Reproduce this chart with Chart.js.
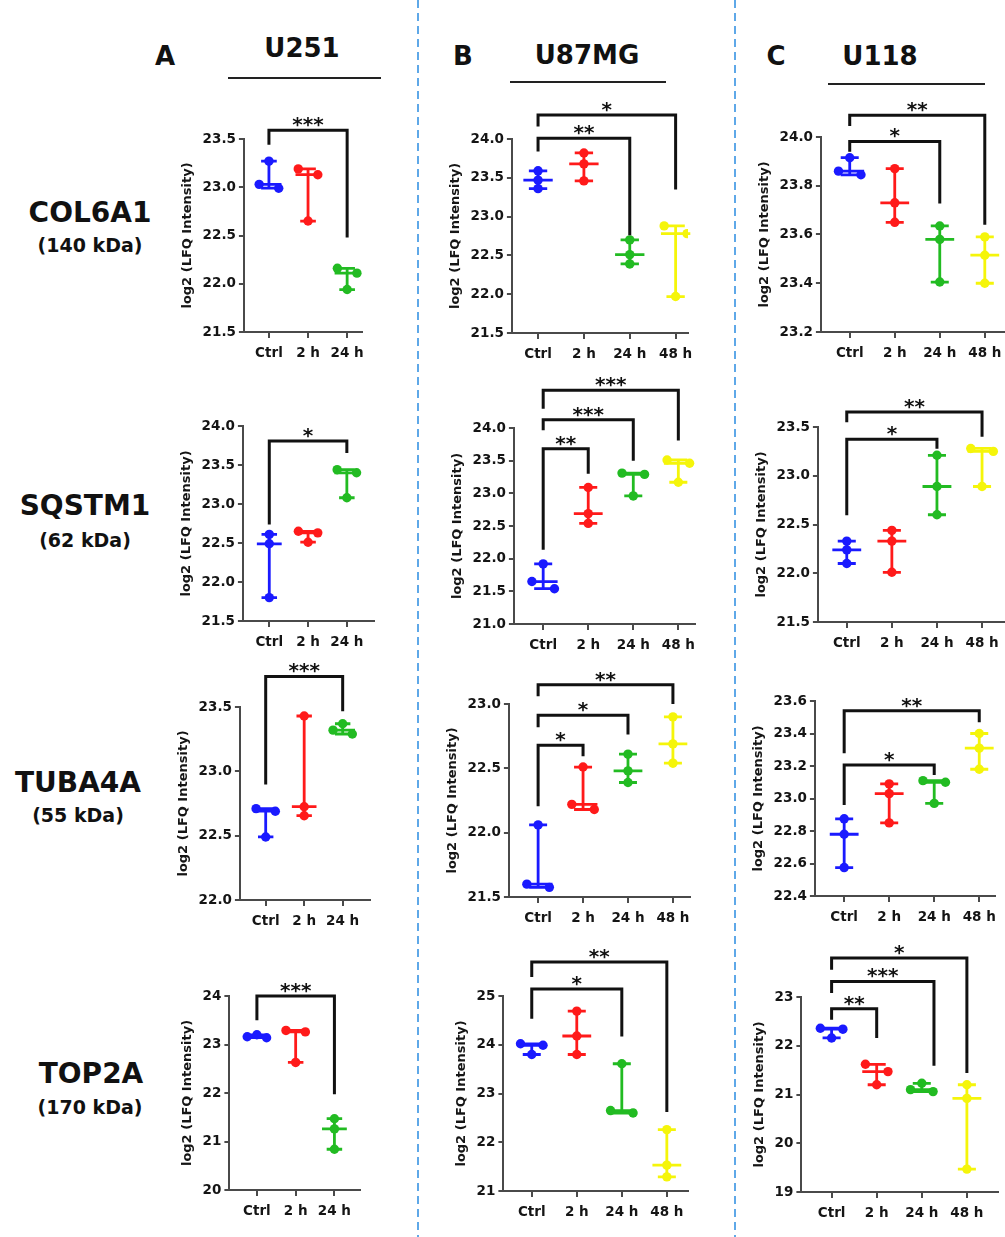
<!DOCTYPE html>
<html>
<head>
<meta charset="utf-8">
<script src="https://cdn.jsdelivr.net/npm/chart.js@4.4.0/dist/chart.umd.min.js"></script>
<style>
  html, body { margin: 0; padding: 0; background: #fff; }
  body { width: 1005px; height: 1237px; position: relative; overflow: hidden;
         font-family: 'DejaVu Sans', sans-serif; font-weight: bold; color: #111; }
  .lbl { position: absolute; transform: translate(-50%, -50%); white-space: nowrap; }
  .rule { position: absolute; height: 2px; background: #222; }
  .dash { position: absolute; top: 0; width: 2px; height: 1237px;
          background: repeating-linear-gradient(to bottom, #5ea8e8 0 8px, transparent 8px 13px); }
  .panel { position: absolute; }
</style>
</head>
<body>
<div class="dash" style="left:417px"></div>
<div class="dash" style="left:734px"></div>

<div class="lbl" style="left:165px;top:56px;font-size:26px">A</div>
<div class="lbl" style="left:302px;top:48px;font-size:26px">U251</div>
<div class="rule" style="left:228px;top:77px;width:153px"></div>
<div class="lbl" style="left:463px;top:56px;font-size:26px">B</div>
<div class="lbl" style="left:587px;top:55px;font-size:26px">U87MG</div>
<div class="rule" style="left:510px;top:81px;width:156px"></div>
<div class="lbl" style="left:776px;top:56px;font-size:26px">C</div>
<div class="lbl" style="left:880px;top:56px;font-size:26px">U118</div>
<div class="rule" style="left:828px;top:83px;width:157px"></div>

<div class="lbl" style="left:90px;top:212px;font-size:28px">COL6A1</div>
<div class="lbl" style="left:90px;top:245px;font-size:19px">(140 kDa)</div>
<div class="lbl" style="left:85px;top:505px;font-size:28px">SQSTM1</div>
<div class="lbl" style="left:85px;top:540px;font-size:19px">(62 kDa)</div>
<div class="lbl" style="left:78px;top:782px;font-size:28px">TUBA4A</div>
<div class="lbl" style="left:78px;top:815px;font-size:19px">(55 kDa)</div>
<div class="lbl" style="left:91px;top:1073px;font-size:28px">TOP2A</div>
<div class="lbl" style="left:90px;top:1107px;font-size:19px">(170 kDa)</div>

<script>
const GROUPS3 = ['Ctrl', '2 h', '24 h'];
const GROUPS4 = ['Ctrl', '2 h', '24 h', '48 h'];
const COLORS = ['#1a1aff', '#ff1a1a', '#22bb22', '#f5f50a'];

// log2 LFQ values per group (3 replicates). Axis = [min, max, step]
// Sig = [from group, to group, bracket top, left leg end, right leg end, label]
// COL6A1 (140 kDa)
const col6a1U251 = [[23.27, 23.03, 22.99], [23.19, 23.13, 22.65], [22.16, 22.11, 21.94]];
const col6a1U251Sig = [[0, 2, 23.59, 23.44, 22.48, '***']];
const col6a1U87 = [[23.59, 23.47, 23.36], [23.82, 23.68, 23.46], [22.70, 22.51, 22.39], [22.88, 22.78, 21.97]];
const col6a1U87Sig = [[0, 2, 24.01, 23.84, 22.76, '**'], [0, 3, 24.31, 24.16, 23.35, '*']];
const col6a1U118 = [[23.915, 23.86, 23.845], [23.87, 23.73, 23.65], [23.635, 23.58, 23.405], [23.59, 23.515, 23.40]];
const col6a1U118Sig = [[0, 2, 23.982, 23.94, 23.727, '*'], [0, 3, 24.089, 24.045, 23.64, '**']];

// SQSTM1 (62 kDa)
const sqstm1U251 = [[22.61, 22.49, 21.80], [22.65, 22.63, 22.51], [23.44, 23.40, 23.08]];
const sqstm1U251Sig = [[0, 2, 23.807, 22.737, 23.653, '*']];
const sqstm1U87 = [[21.92, 21.65, 21.54], [23.09, 22.69, 22.54], [23.31, 23.29, 22.96], [23.51, 23.46, 23.17]];
const sqstm1U87Sig = [[0, 1, 23.683, 22.135, 23.30, '**'], [0, 2, 24.128, 23.964, 23.50, '***'], [0, 3, 24.577, 24.296, 23.81, '***']];
const sqstm1U118 = [[22.33, 22.24, 22.10], [22.44, 22.33, 22.01], [23.21, 22.89, 22.60], [23.28, 23.25, 22.89]];
const sqstm1U118Sig = [[0, 2, 23.374, 22.596, 23.278, '*'], [0, 3, 23.654, 23.55, 23.40, '**']];

// TUBA4A (55 kDa)
const tuba4aU251 = [[22.71, 22.69, 22.49], [23.43, 22.725, 22.655], [23.37, 23.32, 23.29]];
const tuba4aU251Sig = [[0, 2, 23.738, 22.897, 23.466, '***']];
const tuba4aU87 = [[22.06, 21.60, 21.575], [22.51, 22.22, 22.18], [22.61, 22.48, 22.39], [22.90, 22.69, 22.54]];
const tuba4aU87Sig = [[0, 1, 22.679, 22.206, 22.594, '*'], [0, 2, 22.912, 22.819, 22.762, '*'], [0, 3, 23.15, 23.06, 23.0, '**']];
const tuba4aU118 = [[22.875, 22.78, 22.575], [23.09, 23.03, 22.85], [23.11, 23.10, 22.97], [23.40, 23.31, 23.18]];
const tuba4aU118Sig = [[0, 2, 23.206, 22.96, 23.145, '*'], [0, 3, 23.54, 23.278, 23.469, '**']];

// TOP2A (170 kDa)
const top2aU251 = [[23.20, 23.16, 23.14], [23.29, 23.26, 22.63], [21.47, 21.26, 20.84]];
const top2aU251Sig = [[0, 2, 24.0, 23.5, 21.976, '***']];
const top2aU87 = [[24.02, 23.99, 23.80], [24.69, 24.18, 23.80], [23.61, 22.65, 22.60], [22.26, 21.53, 21.29]];
const top2aU87Sig = [[0, 2, 25.144, 24.535, 24.17, '*'], [0, 3, 25.697, 25.39, 22.62, '**']];
const top2aU118 = [[22.36, 22.34, 22.16], [21.62, 21.47, 21.20], [21.23, 21.10, 21.06], [21.20, 20.92, 19.47]];
const top2aU118Sig = [[0, 1, 22.76, 22.535, 22.16, '**'], [0, 2.27, 23.32, 23.08, 21.59, '***'], [0, 3, 23.80, 23.56, 21.44, '*']];

// plot area of each panel on the page: [left, top, right, bottom], x range in group units
const panels = [
  { groups: GROUPS3, values: col6a1U251, sig: col6a1U251Sig, axis: [21.5, 23.5, 0.5], box: [244, 139, 362, 332.3], xr: [-0.64, 2.38] },
  { groups: GROUPS4, values: col6a1U87, sig: col6a1U87Sig, axis: [21.5, 24, 0.5], box: [511.7, 139.3, 688, 333.7], xr: [-0.57, 3.27] },
  { groups: GROUPS4, values: col6a1U118, sig: col6a1U118Sig, axis: [23.2, 24, 0.2], box: [820.7, 136.7, 1010, 331.7], xr: [-0.64, 3.56] },
  { groups: GROUPS3, values: sqstm1U251, sig: sqstm1U251Sig, axis: [21.5, 24, 0.5], box: [242.7, 425.7, 374, 620.3], xr: [-0.68, 2.70] },
  { groups: GROUPS4, values: sqstm1U87, sig: sqstm1U87Sig, axis: [21, 24, 0.5], box: [514, 427.7, 695, 623.3], xr: [-0.65, 3.37] },
  { groups: GROUPS4, values: sqstm1U118, sig: sqstm1U118Sig, axis: [21.5, 23.5, 0.5], box: [818.3, 426.7, 1010, 622], xr: [-0.64, 3.62] },
  { groups: GROUPS3, values: tuba4aU251, sig: tuba4aU251Sig, axis: [22, 23.5, 0.5], box: [240, 707.3, 370, 900.7], xr: [-0.67, 2.71] },
  { groups: GROUPS4, values: tuba4aU87, sig: tuba4aU87Sig, axis: [21.5, 23, 0.5], box: [509.3, 704.3, 690, 897.7], xr: [-0.65, 3.38] },
  { groups: GROUPS4, values: tuba4aU118, sig: tuba4aU118Sig, axis: [22.4, 23.6, 0.2], box: [815, 701, 995, 896], xr: [-0.65, 3.35] },
  { groups: GROUPS3, values: top2aU251, sig: top2aU251Sig, axis: [20, 24, 1], box: [229.3, 995.7, 360, 1190], xr: [-0.71, 2.66] },
  { groups: GROUPS4, values: top2aU87, sig: top2aU87Sig, axis: [21, 25, 1], box: [503.3, 995.7, 688, 1190.7], xr: [-0.63, 3.47] },
  { groups: GROUPS4, values: top2aU118, sig: top2aU118Sig, axis: [19, 23, 1], box: [801.7, 997.3, 998, 1192.3], xr: [-0.67, 3.69] }
];

const PAD_TOP = 70, PAD_RIGHT = 20, X_AXIS_H = 40;
const JITTER = 0.25, CLUSTER_PX = 8.2, MEDIAN_HALF = 0.32, CAP_HALF = 0.2;
const AXIS_COLOR = '#4a4a4a', TEXT_COLOR = '#151515';
const FONT = 'DejaVu Sans';

// spread points that would overlap sideways, like a small beeswarm
function spread(vals, pxPerY) {
  const sorted = vals.slice().sort((a, b) => b - a);
  const out = [];
  let i = 0;
  while (i < sorted.length) {
    let j = i + 1;
    while (j < sorted.length && (sorted[j - 1] - sorted[j]) * pxPerY < CLUSTER_PX) j++;
    const c = sorted.slice(i, j);
    const sides = c.length === 1 ? [0] : c.length === 2 ? [-1, 1] : [0, -1, 1];
    c.forEach((v, k) => out.push({ v: v, side: sides[k] || 0 }));
    i = j;
  }
  return out;
}

function makePlugin(p) {
  return {
    id: 'summary',
    beforeDatasetsDraw(chart) {
      const { ctx, scales: { x, y } } = chart;
      const unit = x.getPixelForValue(1) - x.getPixelForValue(0);
      ctx.save();
      ctx.lineWidth = 2.8;
      p.values.forEach((vals, g) => {
        const s = vals.slice().sort((a, b) => a - b);
        const cx = x.getPixelForValue(g);
        const lo = y.getPixelForValue(s[0]);
        const hi = y.getPixelForValue(s[s.length - 1]);
        const md = y.getPixelForValue(s[Math.floor(s.length / 2)]);
        ctx.strokeStyle = COLORS[g];
        ctx.beginPath();
        ctx.moveTo(cx, lo); ctx.lineTo(cx, hi);
        ctx.moveTo(cx - CAP_HALF * unit, lo); ctx.lineTo(cx + CAP_HALF * unit, lo);
        ctx.moveTo(cx - CAP_HALF * unit, hi); ctx.lineTo(cx + CAP_HALF * unit, hi);
        ctx.moveTo(cx - MEDIAN_HALF * unit, md); ctx.lineTo(cx + MEDIAN_HALF * unit, md);
        ctx.stroke();
      });
      ctx.restore();
    },
    afterDraw(chart) {
      const { ctx, scales: { x, y } } = chart;
      ctx.save();
      ctx.strokeStyle = '#111';
      ctx.fillStyle = '#111';
      ctx.lineWidth = 3;
      ctx.lineJoin = 'miter';
      ctx.font = 'bold 20px ' + FONT;
      ctx.textAlign = 'center';
      ctx.textBaseline = 'alphabetic';
      p.sig.forEach(([a, b, top, endA, endB, label]) => {
        const xa = x.getPixelForValue(a), xb = x.getPixelForValue(b);
        const yt = y.getPixelForValue(top);
        ctx.beginPath();
        ctx.moveTo(xa, y.getPixelForValue(endA));
        ctx.lineTo(xa, yt);
        ctx.lineTo(xb, yt);
        ctx.lineTo(xb, y.getPixelForValue(endB));
        ctx.stroke();
        ctx.fillText(label, (xa + xb) / 2, yt + 1);
      });
      ctx.restore();
    }
  };
}

function buildConfig(p) {
  const [yMin, yMax, step] = p.axis;
  const dec = step < 1 ? 1 : 0;
  const pxPerY = (p.box[3] - p.box[1]) / (yMax - yMin);
  const datasets = p.values.map((vals, g) => ({
    data: spread(vals, pxPerY).map(o => ({ x: g + o.side * JITTER, y: o.v })),
    backgroundColor: COLORS[g],
    borderColor: COLORS[g],
    borderWidth: 0,
    pointRadius: 4.7,
    pointHoverRadius: 4.7
  }));
  const tickFont = { family: FONT, size: 13.5, weight: 'bold' };
  return {
    type: 'scatter',
    data: { datasets: datasets },
    plugins: [makePlugin(p)],
    options: {
      responsive: false,
      animation: false,
      events: [],
      layout: { padding: { top: PAD_TOP, right: PAD_RIGHT, left: 0, bottom: 0 } },
      plugins: { legend: { display: false }, tooltip: { enabled: false } },
      scales: {
        x: {
          type: 'linear',
          min: p.xr[0],
          max: p.xr[1],
          afterBuildTicks: s => { s.ticks = p.groups.map((_, i) => ({ value: i })); },
          afterFit: s => { s.height = X_AXIS_H; },
          ticks: {
            autoSkip: false, maxRotation: 0, padding: 7, color: TEXT_COLOR, font: tickFont,
            callback: v => p.groups[Math.round(v)]
          },
          grid: { drawOnChartArea: false, drawTicks: true, tickLength: 6, color: AXIS_COLOR, lineWidth: 2 },
          border: { color: AXIS_COLOR, width: 2 }
        },
        y: {
          min: yMin,
          max: yMax,
          ticks: { stepSize: step, padding: 3, color: TEXT_COLOR, font: tickFont, callback: v => v.toFixed(dec) },
          grid: { drawOnChartArea: false, drawTicks: true, tickLength: 5, color: AXIS_COLOR, lineWidth: 2 },
          border: { color: AXIS_COLOR, width: 2 },
          title: {
            display: true, text: 'log2 (LFQ Intensity)', color: TEXT_COLOR,
            font: { family: FONT, size: 13, weight: 'bold' }, padding: { top: 0, bottom: 4 }
          }
        }
      }
    }
  };
}

function mountPanel(p) {
  const height = Math.round(p.box[3] - p.box[1] + PAD_TOP + X_AXIS_H);
  // first pass only measures the width taken by the y axis
  const probe = document.createElement('canvas');
  probe.width = 400; probe.height = height;
  const tmp = new Chart(probe, buildConfig(p));
  const axisW = tmp.chartArea.left;
  tmp.destroy();

  const left = p.box[0] - axisW;
  const wrap = document.createElement('div');
  wrap.className = 'panel';
  wrap.style.left = left + 'px';
  wrap.style.top = (p.box[1] - PAD_TOP) + 'px';
  const canvas = document.createElement('canvas');
  canvas.width = Math.round(p.box[2] - left + PAD_RIGHT);
  canvas.height = height;
  wrap.appendChild(canvas);
  document.body.appendChild(wrap);
  new Chart(canvas, buildConfig(p));
}

panels.forEach(mountPanel);
</script>
</body>
</html>
